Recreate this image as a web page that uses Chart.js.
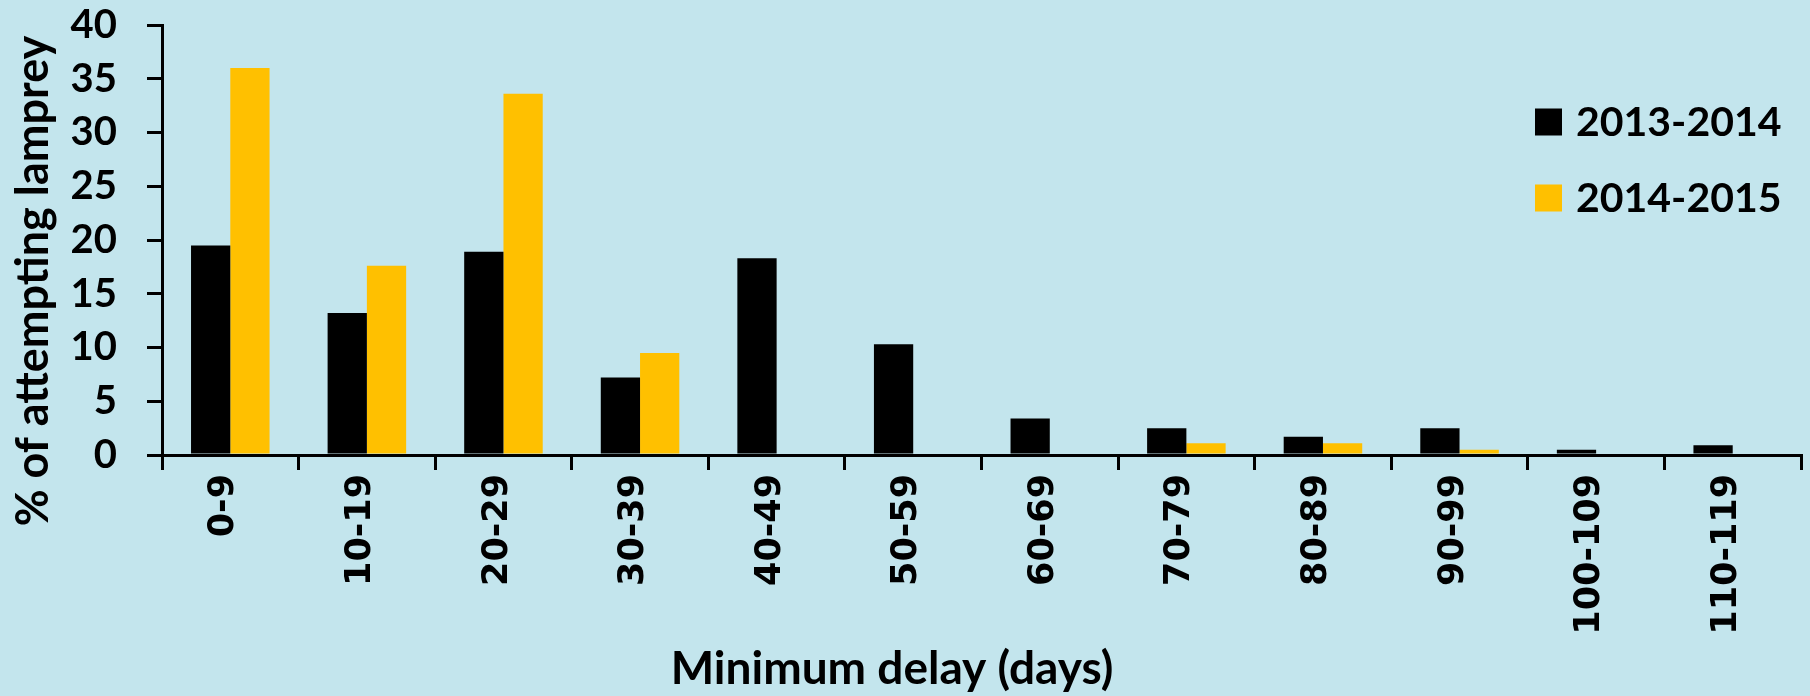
<!DOCTYPE html>
<html>
<head>
<meta charset="utf-8">
<script src="https://cdn.jsdelivr.net/npm/chart.js@4.4.1/dist/chart.umd.min.js"></script>
<style>
  html, body { margin: 0; padding: 0; background: #c3e5ed; }
  #wrap { width: 1810px; height: 696px; position: relative; overflow: hidden; }
  canvas { display: block; }
</style>
</head>
<body>
<div id="wrap"><canvas id="chart" width="1810" height="696"></canvas></div>
<script>
// Delay bins (days)
const categories = ['0-9', '10-19', '20-29', '30-39', '40-49', '50-59',
                    '60-69', '70-79', '80-89', '90-99', '100-109', '110-119'];

// % of attempting lamprey per season
const season1Label = '2013-2014';
const season1Values = [19.5, 13.2, 18.9, 7.2, 18.3, 10.3, 3.4, 2.5, 1.7, 2.5, 0.5, 0.9];

const season2Label = '2014-2015';
const season2Values = [36.0, 17.6, 33.6, 9.5, 0, 0, 0, 1.1, 1.1, 0.5, 0, 0];

// Value axis ticks
const yTickValues = [0, 5, 10, 15, 20, 25, 30, 35, 40];

const xAxisTitle = 'Minimum delay (days)';
const yAxisTitle = '% of attempting lamprey';

const BLACK = '#000000';
const GOLD = '#ffc000';
const LABEL_FONT = 'Lato';

// Axis titles, drawn at fixed spots around the plot
const axisTitlePlugin = {
  id: 'axisTitlePlugin',
  afterDraw(chart) {
    const ctx = chart.ctx;
    ctx.save();
    ctx.fillStyle = BLACK;
    ctx.textAlign = 'center';
    ctx.textBaseline = 'alphabetic';
    ctx.font = 'bold 46px ' + LABEL_FONT;
    ctx.fillText(xAxisTitle, 892, 684);
    ctx.translate(48, 281);
    ctx.rotate(-Math.PI / 2);
    ctx.font = 'bold 45px ' + LABEL_FONT;
    ctx.fillText(yAxisTitle, 0, 0);
    ctx.restore();
  }
};

// Legend in the upper right of the plot
const legendPlugin = {
  id: 'legendPlugin',
  afterDraw(chart) {
    const ctx = chart.ctx;
    const boxX = 1535, box = 27, gap = 14;
    const rows = [122, 198];
    ctx.save();
    ctx.font = 'bold 41px ' + LABEL_FONT;
    ctx.textAlign = 'left';
    ctx.textBaseline = 'middle';
    chart.data.datasets.forEach((ds, i) => {
      const cy = rows[i];
      ctx.fillStyle = ds.backgroundColor;
      ctx.fillRect(boxX, cy - box / 2, box, box);
      ctx.fillStyle = BLACK;
      ctx.fillText(ds.label, boxX + box + gap, cy + 1);
    });
    ctx.restore();
  }
};

new Chart(document.getElementById('chart'), {
  type: 'bar',
  data: {
    labels: categories,
    datasets: [
      { label: season1Label, data: season1Values, backgroundColor: BLACK,
        categoryPercentage: 0.575, barPercentage: 1.0 },
      { label: season2Label, data: season2Values, backgroundColor: GOLD,
        categoryPercentage: 0.575, barPercentage: 1.0 }
    ]
  },
  options: {
    responsive: false,
    devicePixelRatio: 1,
    animation: false,
    layout: { padding: { top: 25, right: 9, bottom: 0, left: 0 } },
    plugins: {
      legend: { display: false },
      tooltip: { enabled: false }
    },
    scales: {
      x: {
        offset: true,
        grid: {
          offset: true,
          drawOnChartArea: false,
          drawTicks: true,
          tickLength: 15,
          tickWidth: 3,
          lineWidth: 3,
          color: BLACK
        },
        border: { display: true, color: BLACK, width: 3, z: 1 },
        ticks: {
          autoSkip: false,
          minRotation: 90,
          maxRotation: 90,
          padding: 4,
          labelOffset: -6,
          color: BLACK,
          font: { family: 'DejaVu Sans', weight: 'bold', size: 35 }
        },
        afterFit(scale) {
          scale.height = 241;
          scale.paddingLeft = 0;
          scale.paddingRight = 0;
        }
      },
      y: {
        min: 0,
        max: 40,
        afterBuildTicks(scale) { scale.ticks = yTickValues.map(v => ({ value: v })); },
        grid: {
          drawOnChartArea: false,
          drawTicks: true,
          tickLength: 15,
          tickWidth: 3,
          lineWidth: 3,
          color: BLACK
        },
        border: { display: true, color: BLACK, width: 3, z: 1 },
        ticks: {
          autoSkip: false,
          padding: 30,
          color: BLACK,
          font: { family: LABEL_FONT, weight: 'bold', size: 40 }
        },
        afterFit(scale) {
          scale.width = 162;
          scale.paddingTop = 0;
          scale.paddingBottom = 0;
        }
      }
    }
  },
  plugins: [axisTitlePlugin, legendPlugin]
});
</script>
</body>
</html>
